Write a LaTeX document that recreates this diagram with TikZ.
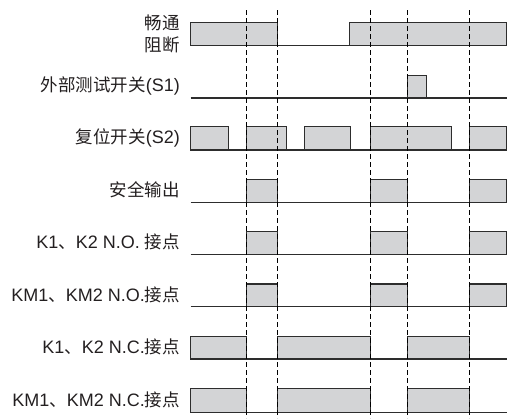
\documentclass[tikz,border=0pt]{standalone}
\usepackage{fontspec}
\setmainfont{Liberation Sans}
\newfontfamily\cjk{Noto Sans CJK SC}
\newcommand{\zh}[1]{{\cjk\fontsize{17.5}{19}\selectfont #1}}
\definecolor{pulsef}{RGB}{211,212,214}
\definecolor{linec}{RGB}{45,45,45}
\definecolor{textc}{RGB}{35,31,32}
\begin{document}
\begin{tikzpicture}[x=1pt,y=-1pt,
  sig/.style={draw=linec, line width=1.1pt},
  pulse/.style={draw=linec, fill=pulsef, line width=1.1pt},
  guide/.style={draw=black, line width=0.75pt, dash pattern=on 5pt off 3pt},
  lab/.style={anchor=east, inner sep=0pt, text=textc, font=\fontsize{18}{20}\selectfont}]
\useasboundingbox (0,0) rectangle (508,418);
\def\xL{190.7}
\def\xR{506.7}
% row 1
\foreach \a/\b in {190.7/277.3, 349.7/506.7}
  \draw[pulse] (\a,22.7) rectangle (\b,45.3);
% row 2
\draw[pulse] (407.7,75.3) rectangle (426.3,98);
% row 3
\foreach \a/\b in {190.7/228.3, 246.7/286.3, 304.3/350.7, 370.3/451.3, 469.7/506.7}
  \draw[pulse] (\a,126.7) rectangle (\b,150);
% rows 4-6
\foreach \t/\bb in {179.3/202.3, 231.3/254.7, 284/306.7}
  \foreach \a/\b in {246.7/277.3, 370.3/407.7, 469.7/506.7}
    \draw[pulse] (\a,\t) rectangle (\b,\bb);
% rows 7-8
\foreach \t/\bb in {336.3/359, 388.3/412.3}
  \foreach \a/\b in {190.7/246.7, 277.3/370.3, 407.7/469.7}
    \draw[pulse] (\a,\t) rectangle (\b,\bb);
% baselines
\foreach \bb in {45.3, 98, 150, 202.3, 254.7, 306.7, 359, 412.3}
  \draw[sig] (\xL,\bb) -- (\xR,\bb);
% guides
\foreach \x in {246.7, 277.3, 370.3, 407.7, 469.7}
  \draw[guide] (\x,10) -- (\x,418);
% labels
\node[lab] (l1a) at (180,22.7) {\zh{畅通}};
\node[lab] (l1b) at (180,45) {\zh{阻断}};
\node[lab] (l2) at (180,86.3) {\zh{外部测试开关}(S1)};
\node[lab] (l3) at (180,138.3) {\zh{复位开关}(S2)};
\node[lab] (l4) at (180,190) {\zh{安全输出}};
\node[lab] (l5) at (180,242) {K1\zh{、}K2 N.O. \zh{接点}};
\node[lab] (l6) at (180,295) {KM1\zh{、}KM2 N.O.\zh{接点}};
\node[lab] (l7) at (180,347) {K1\zh{、}K2 N.C.\zh{接点}};
\node[lab] (l8) at (180,399.5) {KM1\zh{、}KM2 N.C.\zh{接点}};
\end{tikzpicture}
\end{document}
